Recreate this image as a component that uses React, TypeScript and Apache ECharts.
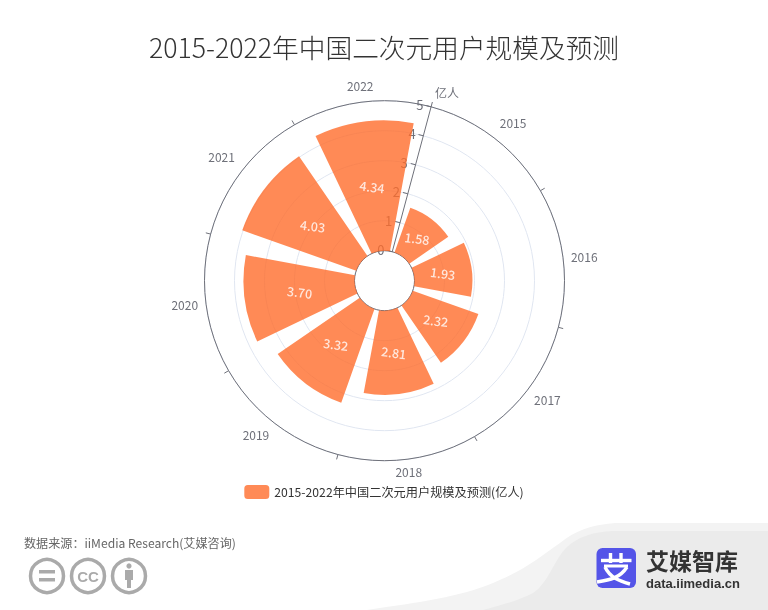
import React, { useEffect, useRef } from "react";
import * as echarts from "echarts";

const years = ["2015", "2016", "2017", "2018", "2019", "2020", "2021", "2022"];
const users = [1.58, 1.93, 2.32, 2.81, 3.32, 3.7, 4.03, 4.34];
const titleText = "2015-2022年中国二次元用户规模及预测";
const seriesName = "2015-2022年中国二次元用户规模及预测(亿人)";
const sourceText = "数据来源：iiMedia Research(艾媒咨询)";
const FONT = '"Noto Sans CJK SC", "Noto Sans", sans-serif';

echarts.graphic.registerShape("bgLight", echarts.graphic.extendPath("M367 610 C420 602 460 597 493 583 C525 570 540 557 560 543 C575 531 590 525 615 523 L768 523 L768 610 Z", {}));
echarts.graphic.registerShape("bgDark", echarts.graphic.extendPath("M483 610 C505 604 520 600 533 593 C548 584 555 558 567 547 C578 537 592 532 613 531 L768 531 L768 610 Z", {}));

export default function App() {
  const ref = useRef<HTMLDivElement>(null);
  useEffect(() => {
    const chart = echarts.init(ref.current!, null, { renderer: "svg" });
    const grey = "#aaaaaa";
    const white = { fill: "none", stroke: "#fff", lineWidth: 3.4 };
    chart.setOption({
      animation: false,
      textStyle: { fontFamily: FONT },
      title: {
        text: titleText,
        left: "center",
        top: 28,
        textStyle: { fontSize: 26.7, fontWeight: 300, color: "#333", fontFamily: FONT },
      },
      legend: {
        bottom: 106,
        left: "center",
        itemWidth: 25,
        itemHeight: 14,
        icon: "roundRect",
        textStyle: { fontSize: 12.2, color: "#333", fontFamily: FONT },
      },
      polar: { center: [384.5, 280.7], radius: [30, 180] },
      angleAxis: {
        type: "category",
        data: years,
        startAngle: 75,
        axisLine: { lineStyle: { color: "#6e7079" } },
        axisTick: { show: true, lineStyle: { color: "#6e7079" } },
        axisLabel: { color: "#6e7079", fontSize: 12, fontFamily: FONT, margin: 6, padding: [0, 2, 5, 2] },
        splitLine: { show: false },
      },
      radiusAxis: {
        type: "value",
        min: 0,
        max: 5,
        interval: 1,
        name: "亿人",
        nameTextStyle: { color: "#6e7079", fontSize: 12, fontFamily: FONT },
        axisLine: { show: true, lineStyle: { color: "#6e7079" } },
        axisTick: { show: true, lineStyle: { color: "#6e7079" } },
        axisLabel: { color: "#6e7079", fontSize: 13, fontFamily: FONT },
        splitLine: { show: true, lineStyle: { color: "#e0e6f1" } },
      },
      series: [
        {
          name: seriesName,
          type: "bar",
          coordinateSystem: "polar",
          data: users.map((v) => v),
          barCategoryGap: "20%",
          itemStyle: { color: "#ff6d2c", opacity: 0.8 },
          label: {
            show: true,
            position: "middle",
            rotate: -0.13,
            color: "#fff",
            fontSize: 12.5,
            fontWeight: 500,
            fontFamily: FONT,
            formatter: (p: any) => p.value.toFixed(2),
          },
        },
      ],
      graphic: [
        { type: "bgLight", silent: true, z: -10, style: { fill: "#f3f3f3" } },
        { type: "bgDark", silent: true, z: -9, style: { fill: "#ebebeb" } },
        { type: "text", x: 24, y: 536, style: { text: sourceText, fontSize: 12.1, fill: "#666", fontFamily: FONT } },
        { type: "circle", shape: { cx: 47, cy: 576, r: 16.5 }, style: { fill: "none", stroke: grey, lineWidth: 3.5 } },
        { type: "rect", shape: { x: 39, y: 570, width: 16, height: 3.5 }, style: { fill: grey } },
        { type: "rect", shape: { x: 39, y: 578, width: 16, height: 3.5 }, style: { fill: grey } },
        { type: "circle", shape: { cx: 88, cy: 576, r: 16.5 }, style: { fill: "none", stroke: grey, lineWidth: 3.5 } },
        { type: "text", x: 88, y: 576, style: { text: "CC", fontSize: 15, fontWeight: 700, fill: grey, align: "center", verticalAlign: "middle", fontFamily: '"Liberation Sans", sans-serif' } },
        { type: "circle", shape: { cx: 129, cy: 576, r: 16.5 }, style: { fill: "none", stroke: grey, lineWidth: 3.5 } },
        { type: "circle", shape: { cx: 129, cy: 566, r: 2.6 }, style: { fill: grey } },
        { type: "rect", shape: { x: 125, y: 570, width: 8, height: 10 }, style: { fill: grey } },
        { type: "rect", shape: { x: 127, y: 578, width: 4, height: 10 }, style: { fill: grey } },
        { type: "rect", shape: { x: 596.5, y: 548, width: 39.5, height: 40, r: 6 }, style: { fill: "#5454e8" } },
        { type: "line", shape: { x1: 601, y1: 560.5, x2: 631.5, y2: 560.5 }, style: { stroke: "#fff", lineWidth: 3.4 } },
        { type: "line", shape: { x1: 610.5, y1: 553, x2: 610.5, y2: 563 }, style: { stroke: "#fff", lineWidth: 3.4 } },
        { type: "line", shape: { x1: 621, y1: 553, x2: 621, y2: 563 }, style: { stroke: "#fff", lineWidth: 3.4 } },
        { type: "line", shape: { x1: 604, y1: 566, x2: 628, y2: 566 }, style: { stroke: "#fff", lineWidth: 3 } },
        { type: "bezierCurve", shape: { x1: 605, y1: 567, cpx1: 610, cpy1: 578, cpx2: 620, cpy2: 581, x2: 630, y2: 584 }, style: white },
        { type: "bezierCurve", shape: { x1: 627, y1: 567, cpx1: 620, cpy1: 578, cpx2: 610, cpy2: 580, x2: 597, y2: 582 }, style: white },
        { type: "text", x: 646, y: 560, style: { text: "艾媒智库", fontSize: 23, fontWeight: 700, fill: "#333", verticalAlign: "middle", fontFamily: FONT } },
        { type: "text", x: 646, y: 583, style: { text: "data.iimedia.cn", fontSize: 13, fontWeight: 700, fill: "#333", verticalAlign: "middle", fontFamily: '"Liberation Sans", sans-serif' } },
      ],
    });
    return () => chart.dispose();
  }, []);
  return <div ref={ref} style={{ position: "fixed", left: 0, top: 0, width: 768, height: 610 }} />;
}
